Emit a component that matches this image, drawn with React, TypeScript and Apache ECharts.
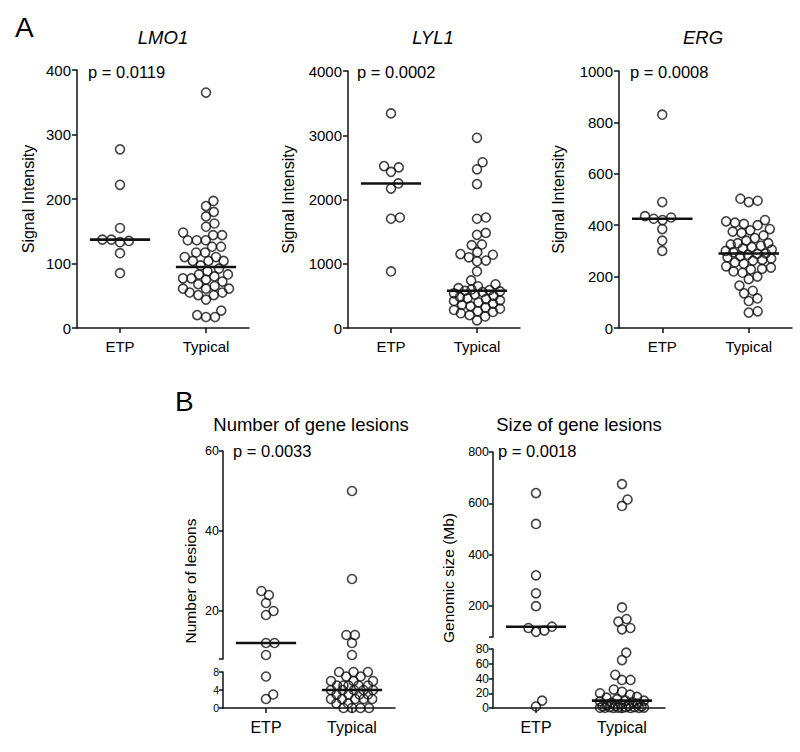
import React, { useEffect, useRef } from "react";
import * as echarts from "echarts";

// ---------------- data ----------------
const groups = ["ETP", "Typical"];

const lmo1Etp = [277, 222, 155, 137, 137, 135, 133, 116, 85];
const lmo1Typical = [365, 197, 189, 180, 173, 162, 157, 148, 144, 144, 136, 136, 136, 126, 126, 117, 117, 110, 110, 104, 104, 104, 97, 92, 88, 83, 83, 80, 77, 77, 75, 72, 68, 65, 61, 61, 61, 55, 55, 51, 51, 44, 27, 20, 17, 17];

const lyl1Etp = [3340, 2520, 2500, 2430, 2250, 2170, 1720, 1700, 880];
const lyl1Typical = [2960, 2580, 2470, 2240, 1720, 1700, 1480, 1450, 1300, 1290, 1180, 1150, 1140, 1100, 1050, 1040, 880, 740, 680, 650, 620, 600, 590, 580, 570, 560, 540, 520, 500, 480, 460, 450, 430, 420, 400, 380, 360, 340, 320, 300, 280, 260, 250, 230, 200, 180, 120];

const ergEtp = [830, 490, 435, 430, 425, 420, 385, 340, 300];
const ergTypical = [503, 495, 490, 420, 415, 410, 405, 400, 385, 380, 375, 370, 360, 350, 340, 330, 330, 325, 320, 315, 310, 305, 300, 295, 290, 288, 285, 280, 275, 270, 265, 262, 255, 250, 240, 235, 230, 228, 220, 215, 200, 190, 165, 145, 135, 115, 105, 65, 60];

const lesionsEtp = [25, 24, 22, 20, 19, 12, 12, 9, 7, 3, 2];
const lesionsTypical = [50, 28, 14, 14, 12, 9, 8, 8, 8, 7, 7, 6, 6, 6, 5, 5, 5, 5, 5, 4, 4, 4, 4, 4, 3, 3, 3, 3, 2, 2, 2, 2, 2, 1, 1, 0, 0, 0, 0];

const sizeEtp = [640, 520, 320, 250, 200, 120, 115, 105, 100, 10, 2];
const sizeTypical = [675, 615, 590, 195, 150, 140, 115, 110, 75, 65, 45, 38, 38, 25, 22, 20, 18, 15, 14, 12, 10, 10, 9, 8, 7, 6, 5, 4, 3, 3, 2, 2, 1, 1, 1, 0.5, 0.5, 0.3, 0.3, 0.2, 0.2, 0.1, 0.1];

const lmo1Ticks = [0, 100, 200, 300, 400];
const lyl1Ticks = [0, 1000, 2000, 3000, 4000];
const ergTicks = [0, 200, 400, 600, 800, 1000];
const lesionsUpperTicks = [20, 40, 60];
const lesionsLowerTicks = [0, 4, 8];
const sizeUpperTicks = [200, 400, 600, 800];
const sizeLowerTicks = [0, 20, 40, 60, 80];

// ---------------- helpers ----------------
const FONT = '"Liberation Sans", Arial, Helvetica, sans-serif';
const INK = "#111";

type Seg = { left: number; top: number; width: number; height: number; min: number; max: number };

function toPx(seg: Seg, v: number) {
  return seg.top + seg.height - ((v - seg.min) / (seg.max - seg.min)) * seg.height;
}

function median(a: number[]) {
  const s = [...a].sort((x, y) => x - y);
  const n = s.length;
  return n % 2 ? s[(n - 1) / 2] : (s[n / 2 - 1] + s[n / 2]) / 2;
}

// beeswarm with a maximum half-width: where no free slot is left, overlap as little as possible
function swarm(values: number[], px: (v: number) => number, d: number, W: number): number[] {
  const idx = values.map((_, i) => i).sort((a, b) => values[a] - values[b]);
  const placed: { x: number; y: number }[] = [];
  const offs = new Array(values.length).fill(0);
  for (const i of idx) {
    const y = px(values[i]);
    const cands = [0];
    for (const p of placed) {
      const dy = Math.abs(p.y - y);
      if (dy < d) {
        const dx = Math.sqrt(d * d - dy * dy);
        cands.push(p.x + dx, p.x - dx);
      }
    }
    const ok = cands
      .filter((c) => Math.abs(c) <= W)
      .sort((a, b) => Math.abs(a) - Math.abs(b))
      .find((c) => placed.every((p) => (p.x - c) ** 2 + (p.y - y) ** 2 >= d * d - 0.01));
    let best = 0;
    if (ok !== undefined) {
      best = ok;
    } else {
      let bestD = -1;
      for (let c = -W; c <= W + 0.001; c += 0.5) {
        let md = Infinity;
        for (const p of placed) md = Math.min(md, (p.x - c) ** 2 + (p.y - y) ** 2);
        if (md > bestD + 0.01 || (Math.abs(md - bestD) <= 0.01 && Math.abs(c) < Math.abs(best))) {
          bestD = md;
          best = c;
        }
      }
    }
    offs[i] = best;
    placed.push({ x: best, y });
  }
  return offs;
}

function buildOption() {
  const grid: any[] = [];
  const xAxis: any[] = [];
  const yAxis: any[] = [];
  const series: any[] = [];
  const graphic: any[] = [];

  const lineStyle = { color: INK, width: 1.5 };

  const addSeg = (seg: Seg, showX: boolean, yConf: any, xFont: number) => {
    const gi = grid.length;
    grid.push({ left: seg.left, top: seg.top, width: seg.width, height: seg.height, containLabel: false });
    if (showX) {
      xAxis.push({
        type: "category",
        gridIndex: gi,
        data: groups,
        boundaryGap: true,
        axisLine: { show: true, onZero: false, lineStyle },
        axisTick: { show: true, alignWithLabel: true, length: 5, lineStyle },
        axisLabel: { color: "#000", fontSize: xFont, fontFamily: FONT, margin: 11 },
        splitLine: { show: false },
      });
    }
    const xv = xAxis.length;
    xAxis.push({ type: "value", gridIndex: gi, min: -0.5, max: 1.5, show: false });
    const yi = yAxis.length;
    yAxis.push({
      type: "value",
      gridIndex: gi,
      min: seg.min,
      max: seg.max,
      position: "left",
      ...yConf,
      axisLine: { show: true, onZero: false, lineStyle },
      splitLine: { show: false },
    });
    return { xv, yi };
  };

  const dots = (xi: number, yi: number, pts: number[][]) => ({
    type: "scatter",
    xAxisIndex: xi,
    yAxisIndex: yi,
    data: pts,
    symbol: "circle",
    symbolSize: 9,
    itemStyle: { color: "rgba(0,0,0,0)", borderColor: INK, borderWidth: 1.6 },
    clip: false,
    silent: true,
    z: 3,
  });

  const medLine = (xi: number, yi: number, c: number, m: number) => ({
    type: "line",
    xAxisIndex: xi,
    yAxisIndex: yi,
    data: [
      [c - 0.35, m],
      [c + 0.35, m],
    ],
    symbol: "none",
    lineStyle: { color: INK, width: 2.6 },
    clip: false,
    silent: true,
    z: 4,
  });

  const txt = (text: string, x: number, y: number, size: number, o: any = {}) =>
    graphic.push({
      type: "text",
      x,
      y,
      rotation: o.rot || 0,
      silent: true,
      style: {
        text,
        fill: "#000",
        font: `${o.italic ? "italic " : ""}${size}px ${FONT}`,
        align: o.align || "center",
        textAlign: o.align || "center",
        verticalAlign: "middle",
        textVerticalAlign: "middle",
      },
    });

  const plain = (v: number) => String(v);

  // ---------- panel A ----------
  const panelsA = [
    { title: "LMO1", p: "p = 0.0119", etp: lmo1Etp, typ: lmo1Typical, ticks: lmo1Ticks, seg: { left: 77, top: 70, width: 172, height: 258, min: 0, max: 400 }, pLeft: 88, nameX: 28, titleX: 163 },
    { title: "LYL1", p: "p = 0.0002", etp: lyl1Etp, typ: lyl1Typical, ticks: lyl1Ticks, seg: { left: 348, top: 71, width: 172, height: 257, min: 0, max: 4000 }, pLeft: 357, nameX: 288, titleX: 433 },
    { title: "ERG", p: "p = 0.0008", etp: ergEtp, typ: ergTypical, ticks: ergTicks, seg: { left: 619, top: 71, width: 173, height: 257, min: 0, max: 1000 }, pLeft: 630, nameX: 558, titleX: 703 },
  ];

  panelsA.forEach((p) => {
    const step = p.ticks[1] - p.ticks[0];
    const { xv, yi } = addSeg(
      p.seg,
      true,
      {
        interval: step,
        axisTick: { show: true, length: 5, lineStyle },
        axisLabel: { color: "#000", fontSize: 15, fontFamily: FONT, margin: 6, formatter: plain },
      },
      15
    );
    const ux = p.seg.width / 2;
    [p.etp, p.typ].forEach((vals, c) => {
      const offs = swarm(vals, (v) => toPx(p.seg, v), 9, 23);
      series.push(dots(xv, yi, vals.map((v, i) => [c + offs[i] / ux, v])));
      series.push(medLine(xv, yi, c, median(vals)));
    });
    txt(p.title, p.titleX, 37, 18.5, { italic: true });
    txt(p.p, p.pLeft, 72, 16.5, { align: "left" });
    txt("Signal Intensity", p.nameX, p.seg.top + p.seg.height / 2, 16, { rot: Math.PI / 2 });
  });

  // ---------- panel B ----------
  const panelsB = [
    {
      title: "Number of gene lesions",
      p: "p = 0.0033",
      name: "Number of lesions",
      etp: lesionsEtp,
      typ: lesionsTypical,
      upperTicks: lesionsUpperTicks,
      lowerTicks: lesionsLowerTicks,
      upper: { left: 223, top: 451, width: 172, height: 208, min: 8, max: 60 },
      lower: { left: 223, top: 672, width: 172, height: 36, min: 0, max: 8 },
      lowerFont: 10.5,
      gap: 8.5,
      W: 21,
      titleX: 311,
      pLeft: 233,
      nameX: 190,
      nameY: 581,
    },
    {
      title: "Size of gene lesions",
      p: "p = 0.0018",
      name: "Genomic size (Mb)",
      etp: sizeEtp,
      typ: sizeTypical,
      upperTicks: sizeUpperTicks,
      lowerTicks: sizeLowerTicks,
      upper: { left: 493, top: 452, width: 172, height: 185, min: 80, max: 800 },
      lower: { left: 493, top: 649, width: 172, height: 59, min: 0, max: 80 },
      lowerFont: 12,
      gap: 8.5,
      W: 22,
      titleX: 579,
      pLeft: 498,
      nameX: 448,
      nameY: 578,
    },
  ];

  panelsB.forEach((p) => {
    const up = addSeg(
      p.upper,
      false,
      {
        axisTick: { show: true, length: 4, lineStyle, customValues: [p.upper.min, ...p.upperTicks] },
        axisLabel: { color: "#000", fontSize: 12.5, fontFamily: FONT, margin: 4, customValues: p.upperTicks, formatter: plain },
      },
      16
    );
    const lo = addSeg(
      p.lower,
      true,
      {
        interval: p.lowerTicks[1] - p.lowerTicks[0],
        axisTick: { show: true, length: 4, lineStyle },
        axisLabel: { color: "#000", fontSize: p.lowerFont, fontFamily: FONT, margin: 4, formatter: plain },
      },
      16
    );
    const ux = p.lower.width / 2;
    const px = (v: number) => (v <= p.lower.max ? toPx(p.lower, v) : toPx(p.upper, v));
    [p.etp, p.typ].forEach((vals, c) => {
      const offs = swarm(vals, px, p.gap, p.W);
      const hi: number[][] = [];
      const lw: number[][] = [];
      vals.forEach((v, i) => {
        const pt = [c + offs[i] / ux, v];
        (v > p.lower.max ? hi : lw).push(pt);
      });
      series.push(dots(up.xv, up.yi, hi));
      series.push(dots(lo.xv, lo.yi, lw));
      const m = median(vals);
      const ax = m > p.lower.max ? up : lo;
      series.push(medLine(ax.xv, ax.yi, c, m));
    });
    txt(p.title, p.titleX, 424, 18.5);
    txt(p.p, p.pLeft, 451, 16.5, { align: "left" });
    txt(p.name, p.nameX, p.nameY, 15.5, { rot: Math.PI / 2 });
  });

  txt("A", 15, 27, 28, { align: "left" });
  txt("B", 175, 401, 28, { align: "left" });

  return {
    animation: false,
    backgroundColor: "#fff",
    grid,
    xAxis,
    yAxis,
    series,
    graphic,
  };
}

export default function App() {
  const ref = useRef<HTMLDivElement>(null);
  useEffect(() => {
    if (!ref.current) return;
    const chart = echarts.init(ref.current, undefined, { renderer: "svg" });
    chart.setOption(buildOption() as any);
    return () => chart.dispose();
  }, []);
  return (
    <div
      ref={ref}
      style={{ position: "absolute", left: 0, top: 0, width: 800, height: 752, background: "#fff" }}
    />
  );
}
